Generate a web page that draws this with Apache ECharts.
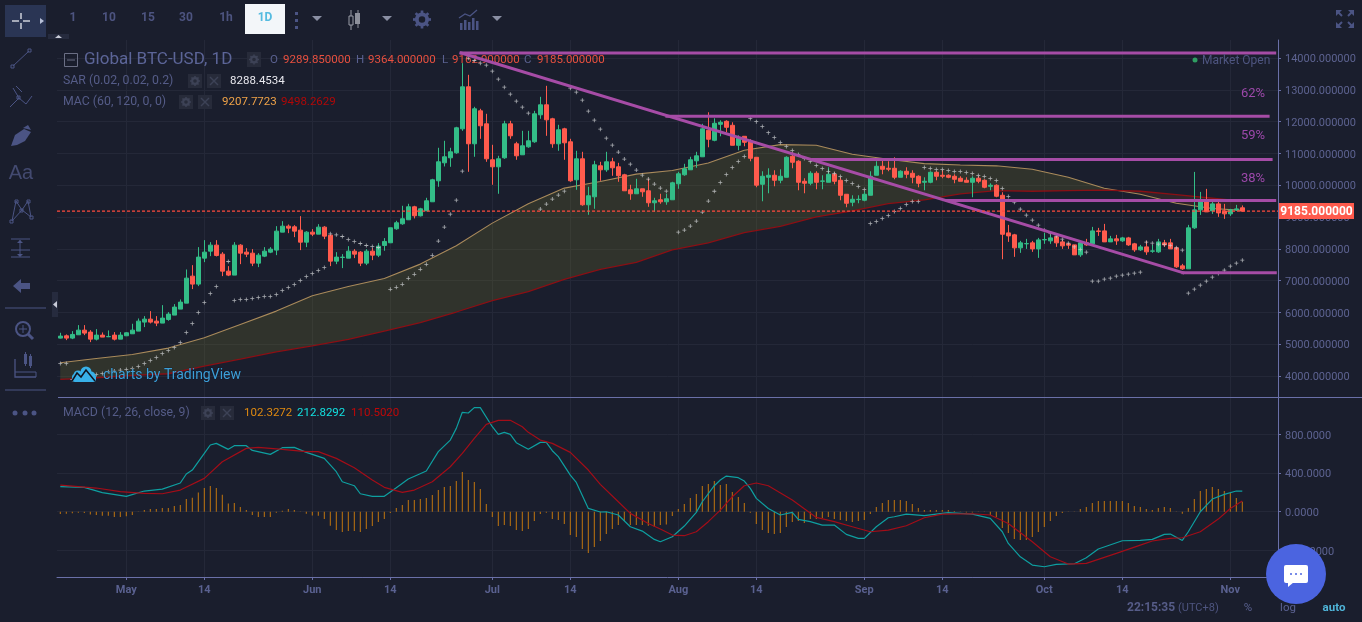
<!DOCTYPE html>
<html>
<head>
<meta charset="utf-8">
<title>Global BTC-USD, 1D</title>
<style>html,body{margin:0;padding:0;background:#1a1e2d;overflow:hidden}#c{width:1362px;height:622px}</style>
<script src="https://cdn.jsdelivr.net/npm/echarts@6/dist/echarts.min.js"></script>
</head>
<body>
<div id="c"></div>
<script>
// Daily candles, first candle is 20 April
var opens = [5192,5265,5192,5297,5443,5381,5160,5286,5234,5286,5160,5265,5328,5412,5695,5789,5726,5664,5779,5915,6104,6292,7141,6890,7707,7927,8116,7833,7298,7173,8116,7896,7864,7550,7770,7896,7959,8525,8713,8692,8587,8210,8525,8462,8682,8430,7613,7728,7707,7927,7896,7550,7927,7801,
8106,8190,8630,8787,8913,9322,9039,9196,9479,10139,10705,10862,11020,11774,13095,11303,12340,11931,10800,10579,10862,11931,11303,10957,11208,11366,12214,12529,12089,11303,11774,11366,10171,10831,9385,9636,10611,10485,10737,10579,10328,9856,9731,9888,9825,9448,9542,9479,9542,10045,10328,10485,10768,10894,
11728,11413,11916,12011,11885,11256,11539,11382,10879,10030,10250,10313,10156,10250,10910,10753,10124,10062,10376,10124,10093,10344,10156,9716,9464,9548,9527,9684,10313,10596,10533,10533,10250,10439,10376,10282,10093,10093,10407,10313,10313,10282,10219,10156,10093,10219,10156,9967,9999,9684,
8501,8439,8030,8156,8187,7998,8281,8250,8376,8218,8156,8124,7810,8187,8156,8564,8564,8218,8313,8250,8344,8156,7967,8061,7925,7904,8187,8187,8030,7464,7370,8659,9225,9476,9193,9413,9193,9099,9225,9289.85];
var closes = [5255,5192,5307,5443,5349,5160,5286,5223,5244,5160,5286,5360,5443,5726,5789,5695,5664,5821,5947,6167,6324,7078,6890,7739,7896,8116,7791,7298,7173,8116,7864,7833,7550,7801,7927,7990,8556,8713,8650,8556,8210,8525,8462,8682,8399,7613,7739,7739,7927,7833,7550,7927,7801,8084,
8232,8662,8819,8945,9322,9039,9259,9511,10171,10737,10894,11051,11806,13095,11303,12403,11869,10831,10579,10831,11931,11554,10925,11240,11397,12246,12529,12057,11303,11743,11334,10139,10831,9385,9668,10642,10485,10737,10548,10297,9825,9731,9888,9794,9448,9511,9479,9574,10076,10359,10517,10800,10925,11774,
11445,11948,11979,11822,11256,11476,11350,10847,10001,10282,10313,10156,10282,10879,10722,10093,10062,10376,10093,10135,10344,10124,9684,9433,9558,9558,9716,10282,10596,10502,10502,10250,10439,10344,10250,10062,10124,10407,10282,10282,10250,10187,10124,10093,10219,10124,9936,9999,9653,8458,
8407,8030,8187,8166,7998,8281,8292,8344,8187,8093,8114,7810,8187,8124,8564,8543,8218,8313,8250,8344,8124,7967,8061,7904,7935,8218,8124,7998,7433,7370,8659,9225,9508,9162,9413,9130,9099,9225,9256,9185];
var lows = [5181,5129,5160,5297,5286,5066,5118,5223,5223,5118,5160,5255,5328,5412,5538,5653,5569,5664,5737,5915,6104,6292,6733,6827,7581,7770,7760,7141,7141,7173,7518,7739,7456,7424,7739,7864,7801,8525,8493,8367,7959,8053,8399,8462,8304,7456,7518,7393,7707,7707,7456,7487,7644,7739,
7939,8180,8599,8756,8913,8955,9018,9186,9479,9951,10590,10579,10988,11711,10422,10894,11460,10737,10014,9731,10831,11460,10800,10957,11177,11334,12089,11554,11177,11083,10800,10108,9856,9353,9070,9259,10139,10422,10297,10108,9825,9542,9731,9636,9322,9165,9416,9385,9542,9888,10297,10485,10548,10894,
11193,11382,11539,11665,11256,11099,11225,10753,9936,9495,9747,9967,10062,10250,10533,9841,9747,9999,9873,9873,10093,10030,9527,9307,9338,9433,9495,9684,10313,10344,10439,10187,10250,10219,10062,9936,9841,10062,10156,10219,10219,10062,10124,10093,9621,10062,9904,9841,9621,7672,
8218,7747,7873,7998,7904,7715,8156,8156,8061,7998,7998,7810,7747,8093,8156,8407,8218,8218,8124,8218,8093,7904,7935,7810,7873,7873,8061,7998,7401,7338,7370,8627,9067,9162,9099,9005,8942,9036,9193,9162.9];
var highs = [5360,5307,5412,5601,5601,5443,5475,5370,5433,5381,5381,5381,5643,5810,5884,6041,5884,6229,6010,6261,6408,7351,7487,8053,8273,8210,8273,7896,7456,8210,8147,8021,7990,7864,8053,8053,8713,8870,8766,8745,9028,8556,8619,8776,8713,8430,7896,7833,8084,7990,7927,7990,8021,8179,
8337,8662,8882,9353,9416,9353,9290,9605,10202,11177,11397,11177,11837,13839,13472,12466,12403,12246,11271,10925,12026,12026,11366,11711,11711,12340,12780,13126,12120,11900,11806,11460,11083,11051,9951,10768,10737,11051,10862,10705,10359,10014,10202,9888,10202,9605,9731,9731,10108,10422,10674,10894,11051,11931,
12294,12105,12042,12042,11979,11571,11539,11445,10879,10439,10533,10470,10502,10910,11036,10785,10219,10439,10439,10313,10565,10407,10250,9716,9684,9684,9810,10439,10753,10785,10753,10879,10470,10565,10470,10313,10250,10439,10439,10470,10344,10344,10282,10250,10282,10282,10187,10062,10030,9779,
8753,8470,8250,8313,8250,8344,8501,8439,8407,8281,8187,8124,8218,8313,8690,8659,8784,8407,8439,8376,8376,8187,8124,8250,8124,8313,8281,8313,8061,7527,8753,10419,9790,9885,9476,9508,9413,9256,9382,9364];
// Parabolic SAR dots
var sarDots = [4395,4395,3892,3920,3950,3980,4050,4081,4133,4154,4186,4207,4238,4301,4395,4490,4584,4710,4804,4899,5056,5370,5653,5999,6313,6596,6816,null,7602,6376,6408,6408,6439,6471,6502,6502,6565,6691,6785,6879,7005,7131,7225,7319,7414,8472,8441,8388,8294,8231,8168,8105,8074,8042,null,
6727,6790,6884,7073,7198,7356,7513,7796,8242,8683,9091,9531,10443,13996,13923,13839,13776,13587,13336,13084,12864,12644,12455,12267,null,9249,9406,9563,9689,9814,13053,12927,12676,12330,12047,11764,11481,11261,11041,10821,10663,10475,10317,10192,10035,9909,9814,null,
8525,8588,8714,8871,9154,9500,9810,10082,10334,10554,10743,10900,12095,12000,11843,11654,11497,11340,11214,11089,10963,10837,10743,10617,10523,10428,10365,10271,10145,10051,9957,9862,8793,8856,8951,9045,9171,9265,9391,9485,9485,
10554,10523,10491,10491,10460,10428,10428,10397,10365,10303,10271,10208,10145,9894,9642,9466,9246,9057,8900,8743,8585,8491,8397,8302,8177,8060,7980,7894,6982,6982,7045,7076,7139,7171,7202,7233,7265,8208,8177,8145,8135,8103,8030,7956,6605,6730,6856,6982,7108,7223,7328,7454,7548,7642];
// Moving averages (60, 120), read at every sixth day
var maDays = [0,6,12,18,24,30,36,42,48,54,60,66,72,78,84,90,96,102,108,114,120,126,132,138,144,150,156,162,168,174,180,186,192,197];
var maFast = [4416,4553,4678,4878,5202,5622,6041,6523,6816,7068,7519,8096,8808,9416,9909,10118,10349,10464,10700,11099,11277,11256,10973,10816,10680,10638,10610,10503,10252,9906,9717,9434,9267,9207.77];
var maSlow = [3892,3945,4018,4071,4312,4532,4762,4951,5150,5415,5677,6013,6368,6651,7041,7356,7572,7970,8186,8510,8709,9003,9192,9422,9538,9726,9831,9811,9832,9843,9811,9707,9591,9498.26];
// MACD histogram, one per day
var macdHist = [-24,-21,-17,-10,-14,-28,-34,-41,-41,-55,-55,-48,-34,2,17,28,28,38,38,59,69,131,145,200,245,266,245,176,86,90,48,17,-34,-55,-55,-55,-10,10,28,17,3,-21,-38,-41,-76,-145,-190,-210,-200,-200,-210,-179,-148,-107,-76,-14,38,69,121,121,131,141,172,224,255,266,317,410,328,307,234,79,-55,-148,-138,-148,-190,-200,-179,-97,-24,-10,-76,-86,-128,-241,-262,-386,-428,-366,-303,-231,-179,-138,-97,-138,-138,-138,-145,-159,
-138,-131,-45,28,79,141,183,266,286,317,276,286,203,152,90,-10,-128,-190,-221,-231,-221,-159,-107,-97,-117,-76,-76,-65,-55,-76,-86,-97,-107,-97,-86,-24,48,90,121,121,121,110,79,38,17,17,17,17,17,7,-3,-7,-7,-3,-3,-34,-55,-169,-221,-283,-293,-293,-262,-210,-159,-97,-45,-14,2,3,28,48,90,110,110,110,110,110,90,59,48,28,17,38,48,38,2,-21,38,131,214,234,255,234,214,193,141,102.33];
// MACD and signal lines: [day, value]
var macdLine = [[0,259],[4,252],[7,197],[11,159],[14,214],[17,234],[20,297],[21,390],[22,431],[24,603],[25,690],[26,707],[28,645],[29,683],[31,683],[32,634],[35,593],[37,662],[39,665],[41,614],[44,552],[46,414],[47,310],[49,269],[50,186],[52,159],[54,159],[56,248],[58,338],[61,421],[63,621],[65,741],[66,862],[67,1028],[68,1021],[69,1076],[70,1076],[72,879],[73,800],[74,821],[75,800],[76,714],[78,645],[80,717],[81,717],[82,631],[83,569],[85,379],[86,303],[88,34],[90,-3],[91,0],[93,-34],[95,-155],[97,-200],[99,-286],[100,-310],[102,-259],[104,-148],[106,-7],[107,103],[109,269],[110,328],[111,369],[113,352],[114,317],[115,241],[116,138],[118,34],[120,-34],[122,-7],[123,-79],[125,-103],[127,-138],[129,-138],[131,-234],[133,-276],[134,-276],[136,-155],[138,-62],[139,-52],[141,-24],[144,-41],[148,-10],[152,-24],[155,-69],[157,-207],[158,-328],[160,-466],[162,-552],[164,-569],[166,-545],[169,-538],[171,-476],[173,-386],[177,-300],[180,-297],[182,-286],[184,-234],[185,-231],[187,-297],[188,-207],[190,0],[192,131],[194,179],[196,214],[197,212.83]];
var signalLine = [[0,276],[6,245],[10,207],[14,190],[17,186],[20,224],[24,345],[27,517],[31,655],[33,665],[37,645],[41,621],[43,621],[46,552],[49,455],[52,328],[54,252],[57,200],[59,224],[62,310],[65,465],[67,603],[69,759],[71,903],[73,945],[75,945],[77,879],[78,821],[80,741],[82,707],[85,614],[88,431],[90,283],[93,103],[95,-17],[98,-121],[100,-179],[102,-241],[104,-248],[106,-207],[108,-103],[110,17],[112,155],[114,269],[116,297],[118,269],[122,121],[126,-59],[129,-103],[132,-155],[135,-207],[138,-190],[141,-145],[144,-62],[147,-24],[152,-21],[155,-34],[158,-121],[162,-310],[165,-466],[168,-541],[171,-534],[176,-431],[180,-345],[182,-303],[185,-276],[187,-269],[190,-207],[193,-76],[195,34],[197,110.5]];
// Drawn trend lines: from day, from price, to day, to price
var drawnLines = [[66.8,14158,202.4,14158],[66.8,14158,187.1,7250],[187.1,7250,202.5,7250],[101.1,12168,201.3,12168],[125.4,10806,201.8,10806],[147.8,9517,202.4,9517]];
var lastPrice = 9185;
// Axis ticks
var priceTicks = [4000,5000,6000,7000,8000,9000,10000,11000,12000,13000,14000];
var macdTicks = [-400,0,400,800];
var tickDays = [11,24,42,55,72,85,103,116,134,147,164,177,195];
var tickLabels = ['May','14','Jun','14','Jul','14','Aug','14','Sep','14','Oct','14','Nov'];
var intervals = [['1',73],['10',109],['15',148],['30',186],['1h',226]];

var BG='#1a1e2d', GRID='#242838', AXIS='#6a70a8', TXT='#5a6190', ICON='#4b5484', UP='#33bd87', DN='#ff5b4d', PURPLE='#a64ca6';
var FONT='Roboto, "Noto Sans", sans-serif';
var XMIN=-0.55, XMAX=202.95;

var candleData = opens.map(function(o,i){return [i,o,closes[i],lows[i],highs[i]];});
var sarData = [];
sarDots.forEach(function(v,i){ if(v!==null) sarData.push([i,v]); });
var histData = macdHist.map(function(v,i){return [i,v];});

// split the moving-average ribbon where the two averages cross
function ribbonParts(){
  var a=[],b=[],crossed=false;
  for(var i=0;i<maDays.length;i++){
    if(!crossed && maFast[i]<maSlow[i]){
      var d0=maFast[i-1]-maSlow[i-1], d1=maFast[i]-maSlow[i], t=d0/(d0-d1);
      var cx=maDays[i-1]+t*(maDays[i]-maDays[i-1]), cy=maFast[i-1]+t*(maFast[i]-maFast[i-1]);
      a.push([cx,cy,cy]); b.push([cx,cy,cy]); crossed=true;
    }
    (crossed?b:a).push([maDays[i],maFast[i],maSlow[i]]);
  }
  return [a,b];
}
var parts = ribbonParts();
function ribbonSeries(part,color){
  return {type:'custom',xAxisIndex:0,yAxisIndex:0,z:1,silent:true,clip:true,
    data:[[part[0][0],part[0][1]]],encode:{x:0,y:1},
    renderItem:function(p,api){
      var pts=[];
      part.forEach(function(q){pts.push(api.coord([q[0],q[1]]));});
      part.slice().reverse().forEach(function(q){pts.push(api.coord([q[0],q[2]]));});
      return {type:'polygon',shape:{points:pts},style:{fill:color}};
    }};
}

var series=[
  ribbonSeries(parts[0],'rgba(110,110,45,0.27)'),
  ribbonSeries(parts[1],'rgba(125,60,30,0.22)'),
  {type:'line',name:'MAC60',xAxisIndex:0,yAxisIndex:0,z:2,symbol:'none',silent:true,lineStyle:{color:'#a98a5b',width:1.1},data:maDays.map(function(d,i){return [d,maFast[i]];})},
  {type:'line',name:'MAC120',xAxisIndex:0,yAxisIndex:0,z:2,symbol:'none',silent:true,lineStyle:{color:'#8a0f14',width:1.3},data:maDays.map(function(d,i){return [d,maSlow[i]];})},
  {type:'candlestick',xAxisIndex:0,yAxisIndex:0,z:3,silent:true,barWidth:4,encode:{x:0,y:[1,2,3,4]},
    itemStyle:{color:UP,color0:DN,borderColor:UP,borderColor0:DN,borderWidth:1},data:candleData},
  {type:'scatter',name:'SAR',xAxisIndex:0,yAxisIndex:0,z:4,silent:true,symbol:'path://M4 0h2v4h4v2h-4v4h-2v-4h-4v-2h4z',symbolSize:4,itemStyle:{color:'#d0d2d4'},data:sarData},
  {type:'line',xAxisIndex:0,yAxisIndex:0,z:6,symbol:'none',silent:true,lineStyle:{color:'#ff4a3d',width:1.2,type:[3,2]},data:[[XMIN,lastPrice],[XMAX,lastPrice]]},
  {type:'bar',name:'Histogram',xAxisIndex:1,yAxisIndex:1,z:2,silent:true,barWidth:1,itemStyle:{color:'#c2770f'},data:histData},
  {type:'line',name:'MACD',xAxisIndex:1,yAxisIndex:1,z:3,symbol:'none',silent:true,lineStyle:{color:'#0e9fa0',width:1.2},data:macdLine},
  {type:'line',name:'Signal',xAxisIndex:1,yAxisIndex:1,z:3,symbol:'none',silent:true,lineStyle:{color:'#a30d18',width:1.2},data:signalLine}
];
drawnLines.forEach(function(s){
  series.push({type:'line',xAxisIndex:0,yAxisIndex:0,z:5,symbol:'none',silent:true,lineStyle:{color:PURPLE,width:3,cap:'square'},data:[[s[0],s[1]],[s[2],s[3]]]});
});

// ----- page furniture -----
var g=[];
function T(x,y,s,o){o=o||{};g.push({type:'text',z:o.z||20,x:x,y:y,silent:true,style:{text:s,fill:o.c||TXT,font:(o.w||'normal')+' '+(o.s||12)+'px '+(o.f||FONT),textAlign:o.a||'left',textVerticalAlign:'middle',stroke:o.stroke,lineWidth:o.lw||0}});}
function R(x,y,w,h,c,r,zz){g.push({type:'rect',z:zz||10,silent:true,shape:{x:x,y:y,width:w,height:h,r:r||0},style:{fill:c}});}
function RS(x,y,w,h,c){g.push({type:'rect',z:12,silent:true,shape:{x:x,y:y,width:w,height:h},style:{fill:'none',stroke:c,lineWidth:1}});}
function L(pts,c,w){g.push({type:'polyline',z:12,silent:true,shape:{points:pts},style:{fill:'none',stroke:c||ICON,lineWidth:w||1}});}
function P(pts,c){g.push({type:'polygon',z:12,silent:true,shape:{points:pts},style:{fill:c||ICON}});}
function C(x,y,r,c,zz){g.push({type:'circle',z:zz||12,silent:true,shape:{cx:x,cy:y,r:r},style:{fill:c}});}
function CS(x,y,r,c,w){g.push({type:'circle',z:12,silent:true,shape:{cx:x,cy:y,r:r},style:{fill:'none',stroke:c,lineWidth:w||1}});}
function gear(x,y,r,c){
  g.push({type:'ring',z:13,silent:true,shape:{cx:x,cy:y,r:r*0.78,r0:r*0.36},style:{fill:c}});
  for(var k=0;k<8;k++){var a=k*Math.PI/4;L([[x+Math.cos(a)*r*0.6,y+Math.sin(a)*r*0.6],[x+Math.cos(a)*r,y+Math.sin(a)*r]],c,Math.max(1.5,r*0.3));}
}
function miniButtons(x1,x2,y){
  R(x1,y-7,14,14,'#272b3a'); gear(x1+7,y,5,'#3d4256');
  R(x2,y-7,14,14,'#272b3a'); L([[x2+3,y-4],[x2+11,y+4]],'#3d4256',1.5); L([[x2+11,y-4],[x2+3,y+4]],'#3d4256',1.5);
}
// left toolbar
R(5,5,41,32,'#2a3554');
L([[12,21],[19,21]],'#e8eaf0',1.3);L([[23,21],[30,21]],'#e8eaf0',1.3);L([[21,13],[21,19]],'#e8eaf0',1.3);L([[21,23],[21,29]],'#e8eaf0',1.3);
P([[40,18],[44,21],[40,24]],'#b8c0d8');
L([[13,66],[29,51]]);RS(11,65,3,3,ICON);RS(28,49,3,3,ICON);
L([[10,107],[19,98]]);L([[19,98],[13,88]]);L([[19,98],[26,104],[32,96]]);L([[16,86],[22,92]]);RS(17,96,3,3,ICON);
P([[11,146],[15,135],[24,129],[31,132],[25,141],[17,145]],ICON);P([[23,128],[28,125],[31,130]],ICON);
T(21,173,'Aa',{c:'#434a70',s:20,a:'center',f:'"Liberation Sans",sans-serif'});
L([[12,221],[16,201],[22,210],[28,201],[31,217]]);L([[12,221],[22,210],[31,217]]);RS(15,200,3,3,ICON);RS(27,200,3,3,ICON);RS(10,220,3,3,ICON);RS(30,216,3,3,ICON);RS(20,209,3,3,ICON);
L([[11,239],[30,239]]);L([[11,250],[30,250]]);L([[11,257],[30,257]]);L([[20,240],[20,256]]);P([[17,243],[20,240],[23,243]]);P([[17,254],[20,257],[23,254]]);
P([[13,286],[21,279],[21,283],[30,283],[30,289],[21,289],[21,293]],ICON);
L([[5,308],[46,308]],ICON,1);
CS(23,329,7,ICON,2);L([[28,334],[33,339]],ICON,3);L([[19,329],[27,329]]);L([[23,325],[23,333]]);
L([[15,359],[15,377],[36,377]],ICON,1.3);L([[15,372],[36,372],[36,377]]);R(24,354,3,10,ICON,0,12);R(29,356,3,10,ICON,0,12);L([[25.5,352],[25.5,366]]);L([[30.5,354],[30.5,368]]);
L([[5,390],[46,390]],ICON,1);
C(15,413,2.5,ICON);C(25,413,2.5,ICON);C(34,413,2.5,ICON);
R(48,34,21,5,'#262b3e');P([[55,38],[58.5,35],[62,38]],'#c8cbd8');
R(52,292,6,25,'#262b3e');P([[53,304.5],[57,301],[57,308]],'#c8cbd8');
// top toolbar
intervals.forEach(function(q){T(q[1],18,q[0],{a:'center',s:12,w:'bold',c:'#4d5480'});});
R(245,4,40,30,'#f3f6f9');T(265,18,'1D',{a:'center',s:12,w:'bold',c:'#55bbe0'});
R(295,12,3,3,ICON);R(295,19,3,3,ICON);R(295,26,3,3,ICON);
P([[312,16],[322,16],[317,21]],'#8a8fa3');
L([[351,10],[351,30]],'#9a9da8');g.push({type:'rect',z:13,silent:true,shape:{x:349,y:16,width:4,height:9},style:{fill:BG,stroke:'#9a9da8',lineWidth:1}});
L([[358,10],[358,28]],'#8d909b');R(355,13,5,11,'#8d909b',0,13);
P([[382,16],[392,16],[387,21]],'#8a8fa3');
gear(422,19.5,9,ICON);
[[460,23,5],[464,20,8],[468,22,6],[472,18,10],[476,21,7]].forEach(function(b){R(b[0],b[1],2.5,b[2]+2,ICON,0,12);});
L([[459,18],[465,14],[470,16],[477,10]],ICON,1.3);
P([[492,16],[502,16],[497,21]],'#8a8fa3');
// full-screen corners
P([[1336,10],[1342,10],[1336,16]]);P([[1354,10],[1348,10],[1354,16]]);P([[1336,28],[1342,28],[1336,22]]);P([[1354,28],[1348,28],[1354,22]]);
L([[1337,11],[1342,16]],ICON,2);L([[1353,11],[1348,16]],ICON,2);L([[1337,27],[1342,22]],ICON,2);L([[1353,27],[1348,22]],ICON,2);
// chart legend
RS(64.5,53.5,13,13,'#6b6f85');L([[67,60],[75,60]],'#6b6f85',1);
T(84,60,'Global BTC-USD, 1D',{s:17,c:'#5c6598'});
R(247,52,14,15,'#272b3a');gear(254,59.5,5,'#3d4256');
var lg=[['O',270,TXT],['9289.850000',283,'#e8503f'],['H',356,TXT],['9364.000000',368,'#e8503f'],['L',442,TXT],['9162.900000',452,'#e8503f'],['C',524,TXT],['9185.000000',537,'#e8503f']];
lg.forEach(function(q){T(q[1],60,q[0],{c:q[2],s:11.5,z:2});});
T(63,81,'SAR (0.02, 0.02, 0.2)',{s:12.3,c:'#555c88'});miniButtons(188,207,81);T(230,81,'8288.4534',{s:11.5,c:'#e8e8ee'});
T(63,102,'MAC (60, 120, 0, 0)',{s:12.3,c:'#555c88'});miniButtons(179,198,102);T(222,102,'9207.7723',{s:11.5,c:'#f0a348'});T(281,102,'9498.2629',{s:11.5,c:'#b00808'});
T(63,413,'MACD (12, 26, close, 9)',{s:12.3,c:'#555c88'});miniButtons(201,220,413);T(244,413,'102.3272',{s:11.5,c:'#e08a10'});T(297,413,'212.8292',{s:11.5,c:'#12e0e0'});T(351,413,'110.5020',{s:11.5,c:'#c00808'});
// market status and percentages
C(1195,60,2.5,'#2f9e62',20);T(1202,60.5,'Market Open',{s:12,c:'#4e5580'});
T(1253,94,'62%',{a:'center',s:13,c:'#9c48aa'});T(1253,136,'59%',{a:'center',s:13,c:'#9c48aa'});T(1253,179,'38%',{a:'center',s:13,c:'#9c48aa'});
// last-price tag
R(1279,203,75,16,'#ff5b4d',0,20);T(1316.5,211.5,'9185.000000',{a:'center',s:12,w:'bold',c:'#ffffff',z:21});
// TradingView mark
R(72,374,24,8,'#38b0e8',3,19);C(78,375,4.5,'#38b0e8',19);C(86,372,5.5,'#38b0e8',19);C(91,376,4.5,'#38b0e8',19);
g.push({type:'polyline',z:20,silent:true,shape:{points:[[72,381],[77,373],[81,377],[86,370],[95,381]]},style:{fill:'none',stroke:'#101420',lineWidth:1.5}});
T(103,375,'charts by TradingView',{s:14,c:'#3c9fd8',stroke:'#0e1220',lw:0.3});
// pane separator
L([[58,397.5],[1362,397.5]],AXIS,1);
// footer
T(1127,608,'22:15:35',{s:12,c:'#565c88',w:'bold'});T(1178,608,'(UTC+8)',{s:11,c:'#4e5580'});
T(1248,608,'%',{a:'center',s:11.5,c:TXT});T(1288,608,'log',{a:'center',s:11.5,c:TXT});T(1334,608,'auto',{a:'center',s:11.5,w:'bold',c:'#4fb4d8'});
// chat bubble
C(1296,574,30,'#4b64e0',25);
g.push({type:'rect',z:26,silent:true,shape:{x:1284,y:565,width:24,height:18,r:2},style:{fill:'#ffffff'}});
g.push({type:'polygon',z:26,silent:true,shape:{points:[[1288,582],[1294,582],[1288,587]]},style:{fill:'#ffffff'}});
C(1291,574,1,'#4b64e0',27);C(1296,574,1,'#4b64e0',27);C(1301,574,1,'#4b64e0',27);

var splitStyle={show:true,lineStyle:{color:GRID,width:1}};
var chart=echarts.init(document.getElementById('c'),null,{renderer:'canvas',width:1362,height:622});
chart.setOption({
  animation:false,backgroundColor:BG,tooltip:{show:false},legend:{show:false},
  grid:[{left:57,width:1221,top:40,height:357,containLabel:false},{left:57,width:1221,top:398,height:179,containLabel:false}],
  xAxis:[
    {type:'value',gridIndex:0,min:XMIN,max:XMAX,scale:true,axisLine:{show:false},axisTick:{show:false,customValues:tickDays},axisLabel:{show:false,customValues:tickDays},splitLine:splitStyle},
    {type:'value',gridIndex:1,min:XMIN,max:XMAX,scale:true,axisLine:{show:true,onZero:false,lineStyle:{color:AXIS,width:1}},axisTick:{show:true,length:3,lineStyle:{color:AXIS},customValues:tickDays},
     axisLabel:{show:true,customValues:tickDays,margin:8,color:TXT,fontFamily:FONT,fontSize:11,fontWeight:'bold',formatter:function(v){return tickLabels[tickDays.indexOf(v)];}},splitLine:splitStyle}
  ],
  yAxis:[
    {type:'value',gridIndex:0,position:'right',min:3340,max:14567,scale:true,axisLine:{show:true,onZero:false,lineStyle:{color:AXIS,width:1}},axisTick:{show:true,length:3,lineStyle:{color:AXIS},customValues:priceTicks},
     axisLabel:{customValues:priceTicks,margin:7,verticalAlign:'top',lineHeight:3,color:'#5d6391',fontFamily:FONT,fontSize:11,formatter:function(v){return v.toFixed(6);}},splitLine:splitStyle},
    {type:'value',gridIndex:1,position:'right',min:-675,max:1176,scale:true,axisLine:{show:true,onZero:false,lineStyle:{color:AXIS,width:1}},axisTick:{show:true,length:3,lineStyle:{color:AXIS},customValues:macdTicks},
     axisLabel:{customValues:macdTicks,margin:7,verticalAlign:'top',lineHeight:3,color:'#5d6391',fontFamily:FONT,fontSize:11,formatter:function(v){return v.toFixed(4);}},splitLine:splitStyle}
  ],
  series:series,
  graphic:{elements:g}
});
</script>
</body>
</html>
